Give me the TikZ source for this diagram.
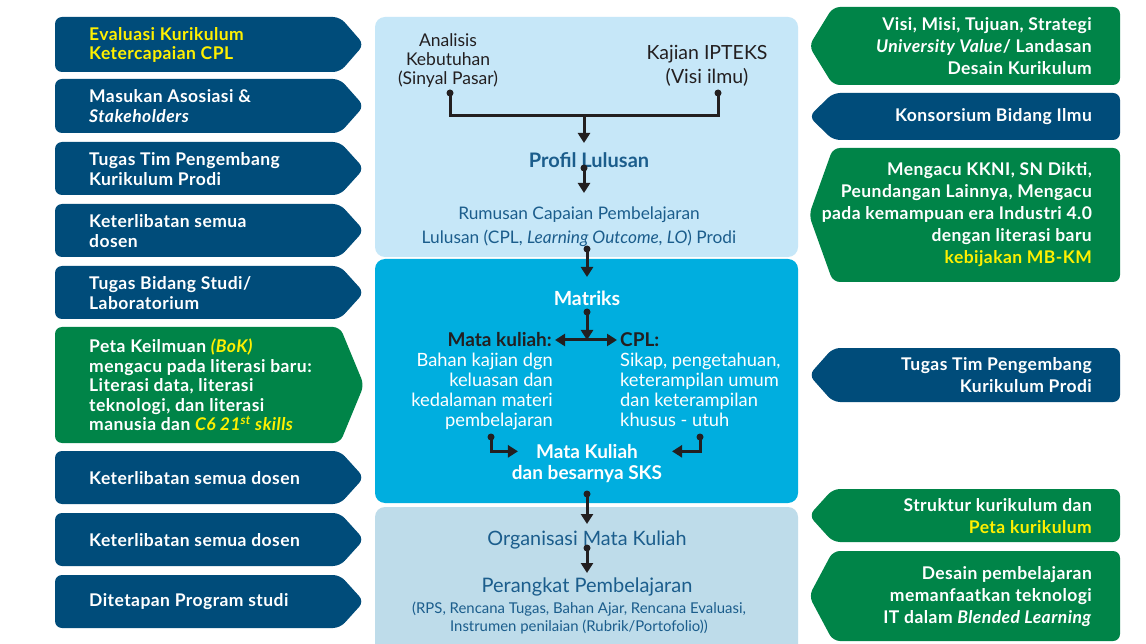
\documentclass[tikz,border=0pt]{standalone}
\usepackage{fontspec}
\setmainfont{Lato}
\newfontfamily\boxfont[LetterSpace=2.5]{Lato}
\usetikzlibrary{arrows.meta}
\definecolor{dblue}{RGB}{0,76,122}
\definecolor{dgreen}{RGB}{0,132,72}
\definecolor{yel}{RGB}{255,240,0}
\definecolor{pone}{RGB}{198,231,248}
\definecolor{ptwo}{RGB}{0,174,223}
\definecolor{pthree}{RGB}{190,220,234}
\definecolor{tblue}{RGB}{27,93,140}
\definecolor{tdark}{RGB}{35,31,32}
\newcommand\LBox[3]{\fill[#3, rounded corners=7pt] (55,#1) -- (340,#1) -- (364,{(#1+#2)/2}) -- (340,#2) -- (55,#2) -- cycle;}
\newcommand\RBox[3]{\fill[#3, rounded corners=7pt] (1120,#1) -- (833,#1) -- (809,{(#1+#2)/2}) -- (833,#2) -- (1120,#2) -- cycle;}
\tikzset{
 lbtext/.style={anchor=west, align=left, text=white, font=\boxfont\fontsize{17.5}{19.5}\selectfont\bfseries, inner sep=0pt},
 rbtext/.style={anchor=east, align=right, text=white, font=\boxfont\fontsize{17.5}{22}\selectfont\bfseries, inner sep=0pt},
 conn/.style={draw=tdark, line width=3pt},
 arr/.style={conn, -{Triangle[width=12pt,length=10pt]}},
 darr/.style={conn, {Triangle[width=12pt,length=10pt]}-{Triangle[width=12pt,length=10pt]}},
 dot/.style={fill=tdark, circle, inner sep=0pt, minimum size=7pt},
 ctext/.style={inner sep=0pt, anchor=north, align=center},
}
\begin{document}
\begin{tikzpicture}[x=1pt,y=-1pt]
\clip (0,0) rectangle (1146,644);
\fill[white] (0,0) rectangle (1146,644);
% left boxes
\LBox{17}{72}{dblue}
\LBox{79}{133}{dblue}
\LBox{142}{195}{dblue}
\LBox{204}{257}{dblue}
\LBox{266}{319}{dblue}
\LBox{327}{443}{dgreen}
\LBox{451}{504}{dblue}
\LBox{513}{566}{dblue}
\LBox{575}{628}{dblue}
\node[lbtext] (l1) at (89,45) {\color{yel}Evaluasi Kurikulum\\\color{yel}Ketercapaian CPL};
\node[lbtext] (l2) at (89,106) {Masukan Asosiasi \&\\\textit{Stakeholders}};
\node[lbtext] (l3) at (89,169) {Tugas Tim Pengembang\\Kurikulum Prodi};
\node[lbtext] (l4) at (89,231) {Keterlibatan semua\\dosen};
\node[lbtext] (l5) at (89,293) {Tugas Bidang Studi/\\Laboratorium};
\node[lbtext] (l6) at (89,385) {Peta Keilmuan \textcolor{yel}{\textit{(BoK)}}\\mengacu pada literasi baru:\\Literasi data, literasi\\teknologi, dan literasi\\manusia dan \textcolor{yel}{\textit{C6 21\textsuperscript{st} skills}}};
\node[lbtext] (l7) at (89,478) {Keterlibatan semua dosen};
\node[lbtext] (l8) at (89,540) {Keterlibatan semua dosen};
\node[lbtext] (l9) at (89,602) {Ditetapan Program studi};
% right boxes
\RBox{7}{85}{dgreen}
\RBox{93}{140}{dblue}
\RBox{148}{282}{dgreen}
\RBox{348}{402}{dblue}
\RBox{489}{542}{dgreen}
\RBox{551}{641}{dgreen}
\node[rbtext] (r1) at (1092,46) {Visi, Misi, Tujuan, Strategi\\\textit{University Value}/ Landasan\\Desain Kurikulum};
\node[rbtext] (r2) at (1092,117) {Konsorsium Bidang Ilmu};
\node[rbtext] (r3) at (1092,215) {Mengacu KKNI, SN Dikti,\\Peundangan Lainnya, Mengacu\\pada kemampuan era Industri 4.0\\dengan literasi baru\\\textcolor{yel}{kebijakan MB-KM}};
\node[rbtext] (r4) at (1092,375) {Tugas Tim Pengembang\\Kurikulum Prodi};
\node[rbtext] (r5) at (1092,516) {Struktur kurikulum dan\\\textcolor{yel}{Peta kurikulum}};
\node[rbtext] (r6) at (1092,597) {Desain pembelajaran\\memanfaatkan teknologi\\IT dalam \textit{Blended Learning}};
% panels
\fill[pone, rounded corners=10pt] (375,17) rectangle (798,257);
\fill[ptwo, rounded corners=10pt] (375,259) rectangle (798,503);
\fill[pthree, rounded corners=10pt] (375,507) rectangle (798,670);
% panel 1
\node[ctext, text=tdark, font=\fontsize{17.5}{19}\selectfont] (ana) at (448,33) {Analisis\\Kebutuhan\\(Sinyal Pasar)};
\node[ctext, text=tdark, font=\fontsize{19.5}{24}\selectfont] (kaj) at (707,45) {Kajian IPTEKS\\(Visi ilmu)};
\node[dot] (da) at (450,93) {};
\node[dot] (dk) at (718,93) {};
\coordinate (jt) at (584,116);
\draw[conn] (da.center) |- (jt) -| (dk.center);
\node[ctext, text=tblue, font=\fontsize{20}{22}\selectfont\bfseries] (prof) at (589,152) {Profil Lulusan};
\draw[arr, shorten >=9pt] (jt) -- (jt |- prof.north);
\node[dot] (dp) at (584,168) {};
\node[ctext, text=tblue, font=\fontsize{17.3}{24}\selectfont] (rum) at (579,207) {Rumusan Capaian Pembelajaran\\Lulusan (CPL, \textit{Learning Outcome, LO}) Prodi};
\draw[arr, shorten >=14pt] (dp.center) -- (dp |- rum.north);
\node[dot] (dr) at (587,249) {};
% panel 2
\node[ctext, text=white, font=\fontsize{19.5}{22}\selectfont\bfseries] (mat) at (587,291) {Matriks};
\draw[arr, shorten >=14pt] (dr.center) -- (dr |- mat.north);
\node[dot] (dm) at (587,312) {};
\node[inner sep=3pt, anchor=east, text=tdark, font=\fontsize{19}{22}\selectfont\bfseries] (mkh) at (555,340) {Mata kuliah:};
\node[inner sep=3pt, anchor=west, text=tdark, font=\fontsize{19}{22}\selectfont\bfseries] (cph) at (617,340) {CPL:};
\coordinate (jm) at (587,340);
\draw[darr] (mkh.east) -- (cph.west);
\draw[arr] (dm.center) -- (jm);
\node[inner sep=0pt, anchor=north east, align=right, text=white, font=\fontsize{18.3}{20}\selectfont] (mkb) at (553,353) {Bahan kajian dgn\\keluasan dan\\kedalaman materi\\pembelajaran};
\node[inner sep=0pt, anchor=north west, align=left, text=white, font=\fontsize{18.3}{20}\selectfont] (cpb) at (620,353) {Sikap, pengetahuan,\\keterampilan umum\\dan keterampilan\\khusus - utuh};
\node[ctext, text=white, font=\fontsize{19}{22}\selectfont\bfseries, inner xsep=18pt] (mk1) at (587,444) {Mata Kuliah};
\node[ctext, text=white, font=\fontsize{19}{22}\selectfont\bfseries] (mk2) at (587,465) {dan besarnya SKS};
\node[dot] (dl) at (491,437) {};
\node[dot] (dq) at (700,437) {};
\draw[arr] (dl.center) |- (mk1.west);
\draw[arr, shorten >=16pt] (dq.center) |- (mk1.east);
\node[dot] (ds) at (587,494) {};
% panel 3
\node[ctext, text=tblue, font=\fontsize{19.8}{22}\selectfont] (org) at (587,531) {Organisasi Mata Kuliah};
\draw[arr, shorten >=7pt] (ds.center) -- (ds |- org.north);
\node[dot] (do) at (587,548) {};
\node[ctext, text=tblue, font=\fontsize{20}{22}\selectfont] (per) at (587,578) {Perangkat Pembelajaran};
\draw[arr, shorten >=5pt] (do.center) -- (do |- per.north);
\node[ctext, text=tblue, font=\fontsize{14.9}{18}\selectfont] (rps) at (579,602) {(RPS, Rencana Tugas, Bahan Ajar, Rencana Evaluasi,\\Instrumen penilaian (Rubrik/Portofolio))};
\end{tikzpicture}
\end{document}
